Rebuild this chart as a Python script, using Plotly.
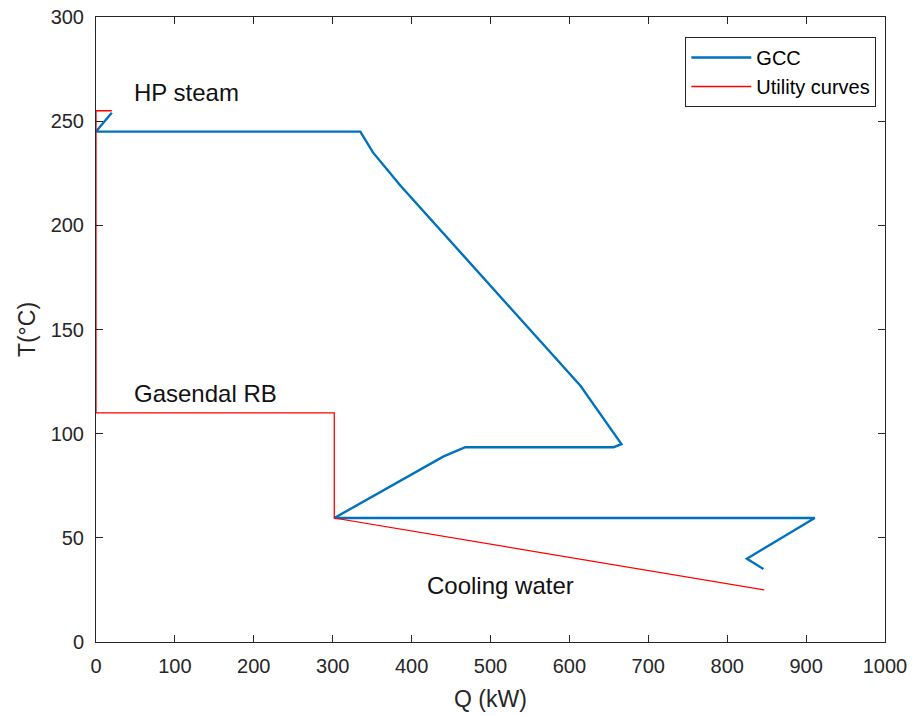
import plotly.graph_objects as go

gcc_q = [20, 0, 335, 351, 386, 614, 666, 656, 468, 440, 302, 911, 825, 846]
gcc_t = [254, 245, 245, 235, 219, 123, 95, 93.5, 93.5, 89, 59.5, 59.5, 40, 35]

util_q = [20, 0, 0, 302, 302, 847]
util_t = [255, 255, 110, 110, 59.5, 25]

labels = ["HP steam", "Gasendal RB", "Cooling water"]
label_q = [45, 45, 417]
label_t = [264, 119.5, 27]

fig = go.Figure()
fig.add_trace(go.Scatter(x=gcc_q, y=gcc_t, mode="lines", name="GCC",
                         line=dict(color="#0072BD", width=2.4)))
fig.add_trace(go.Scatter(x=util_q, y=util_t, mode="lines", name="Utility curves",
                         line=dict(color="#FF0000", width=1.3)))

for txt, q, t in zip(labels, label_q, label_t):
    fig.add_annotation(x=q, y=t, text=txt, showarrow=False, xanchor="left",
                       font=dict(size=24, color="#111111"))

axis_common = dict(showgrid=False, zeroline=False, showline=True, mirror="ticks",
                   linecolor="#262626", linewidth=1, ticks="inside", ticklen=7,
                   tickcolor="#262626", tickfont=dict(size=20, color="#262626"),
                   automargin=False)

fig.update_xaxes(range=[0, 1000], dtick=100, ticklabelstandoff=6,
                 title=dict(text="Q (kW)", font=dict(size=23, color="#262626"), standoff=14),
                 **axis_common)
fig.update_yaxes(range=[0, 300], dtick=50, ticklabelstandoff=7,
                 title=dict(text="T(°C)", font=dict(size=23, color="#262626"), standoff=8),
                 **axis_common)

fig.update_layout(
    width=916, height=716,
    margin=dict(l=96, r=31, t=17, b=74),
    paper_bgcolor="white", plot_bgcolor="white",
    font=dict(family="Liberation Sans, Arial, sans-serif"),
    legend=dict(x=0.989, y=0.968, xanchor="right", yanchor="top",
                bordercolor="#262626", borderwidth=1, bgcolor="white",
                itemwidth=60,
                font=dict(size=20, color="#000000"), tracegroupgap=0),
)

fig.write_html("out.html")
